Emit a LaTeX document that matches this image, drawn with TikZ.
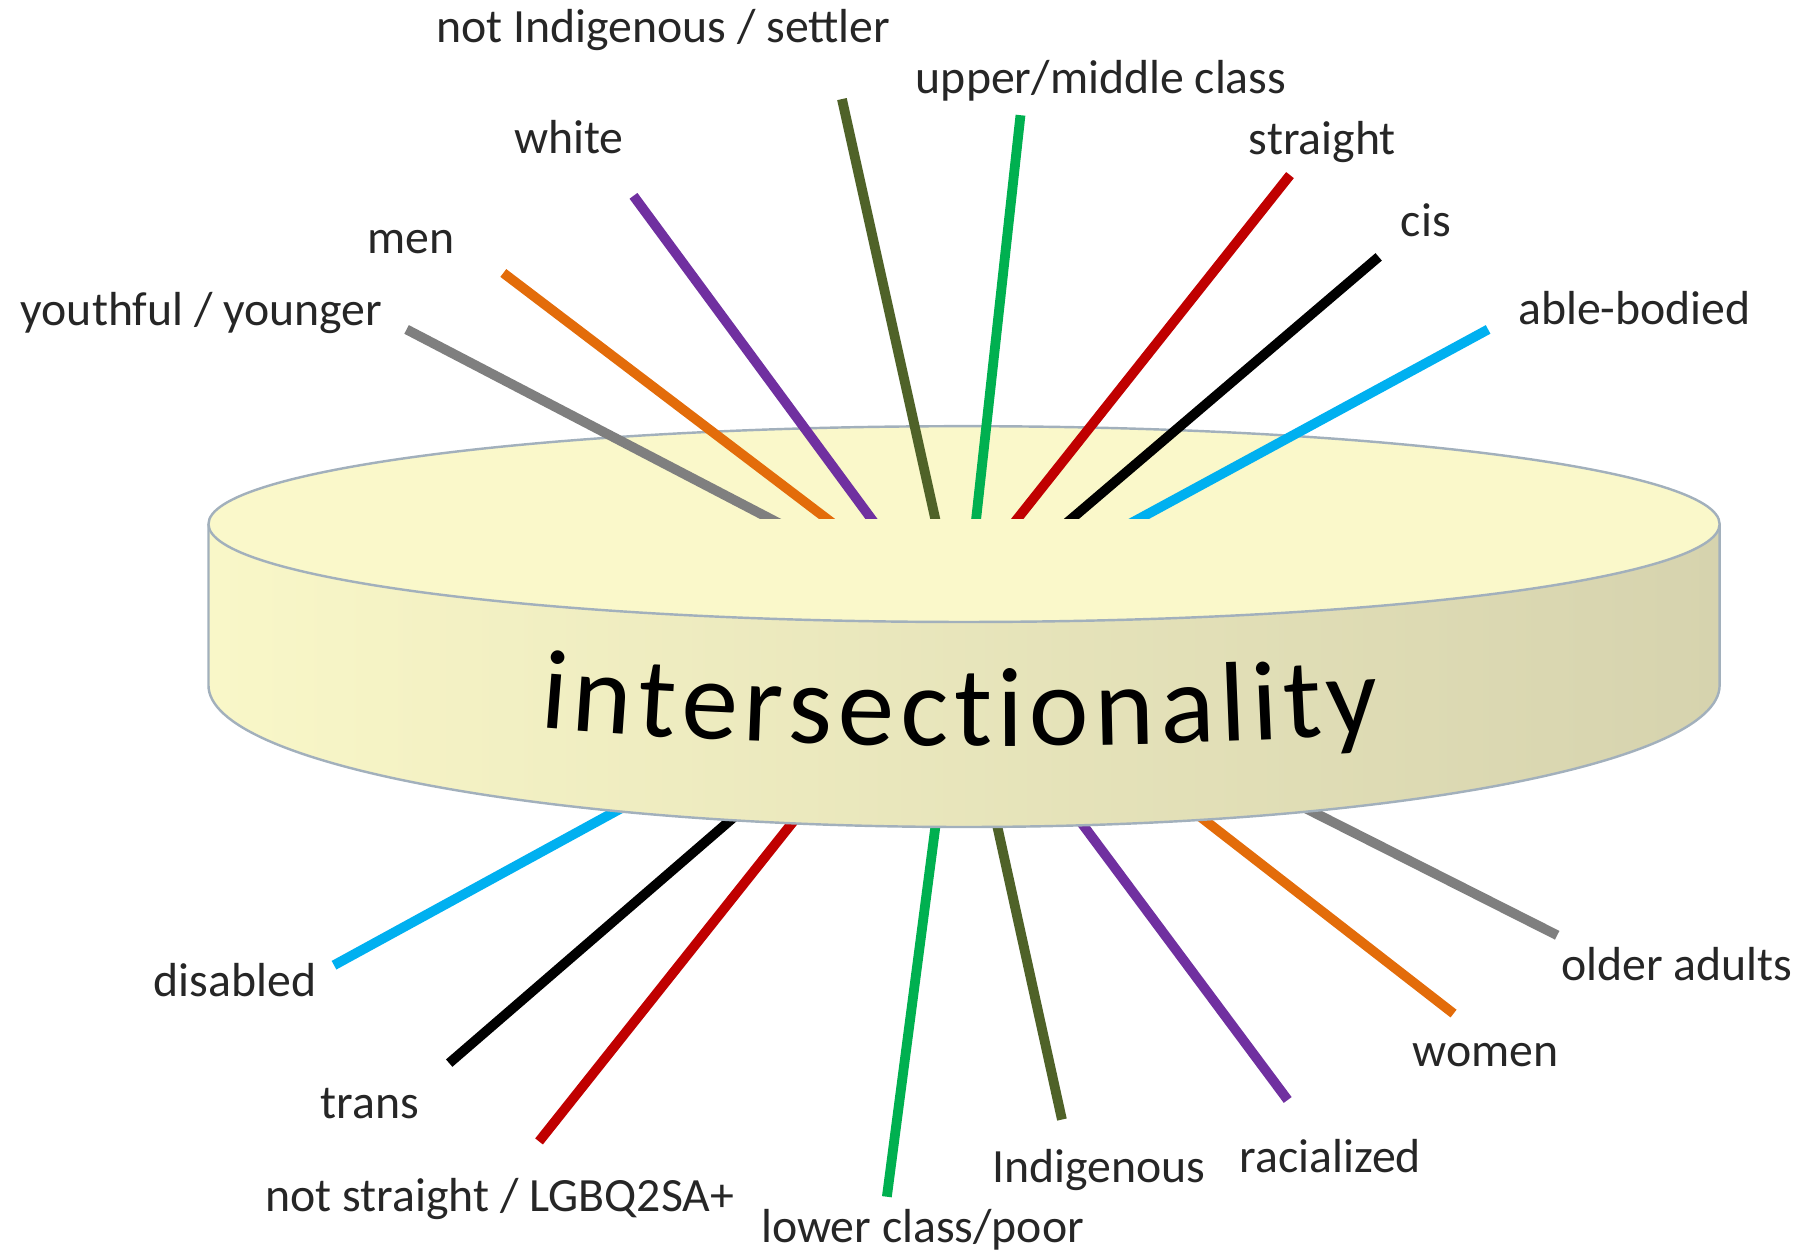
\documentclass[tikz,border=0pt]{standalone}
\usepackage{fontspec}
\setmainfont{Carlito}
\usetikzlibrary{calc,decorations.text}

\definecolor{rayGray}{HTML}{7F7F7F}
\definecolor{rayOrange}{HTML}{E36C0A}
\definecolor{rayPurple}{HTML}{7030A0}
\definecolor{rayOlive}{HTML}{4F6228}
\definecolor{rayGreen}{HTML}{00B050}
\definecolor{rayRed}{HTML}{C00000}
\definecolor{rayCyan}{HTML}{00B0F0}
\definecolor{diskTop}{HTML}{FAF8CA}
\definecolor{diskLeft}{HTML}{F9F7C8}
\definecolor{diskMid}{HTML}{F3F0C4}
\definecolor{diskRight}{HTML}{D6D3AE}
\definecolor{diskLine}{HTML}{A2B0BC}
\definecolor{labelText}{HTML}{262626}

\begin{document}
\begin{tikzpicture}[x=0.1mm,y=-0.1mm,
    ray/.style={line width=0.85mm},
    lbl/.style={anchor=base,inner sep=0pt,text=labelText,font=\fontsize{11.8}{14}\selectfont}]
    \useasboundingbox (0,0) rectangle (1568,1089);

    % ray ends, upper side
    \coordinate (young-o) at (353,286);  \coordinate (young-i) at (668,450);
    \coordinate (men-o) at (437,237);    \coordinate (men-i) at (716,449);
    \coordinate (white-o) at (550,170);  \coordinate (white-i) at (754,447);
    \coordinate (settler-o) at (731,86); \coordinate (settler-i) at (811,446);
    \coordinate (upper-o) at (886,100);  \coordinate (upper-i) at (848,446);
    \coordinate (straight-o) at (1120,152); \coordinate (straight-i) at (886,447);
    \coordinate (cis-o) at (1197,223);   \coordinate (cis-i) at (932,449);
    \coordinate (able-o) at (1292,286);  \coordinate (able-i) at (986,452);
    % ray ends, lower side (inner ends hidden by the disk)
    \coordinate (disabled-o) at (290,838); \coordinate (disabled-i) at (634,650);
    \coordinate (trans-o) at (390,923);    \coordinate (trans-i) at (706,650);
    \coordinate (lgbq-o) at (468,991);     \coordinate (lgbq-i) at (739,650);
    \coordinate (lower-o) at (770,1039);   \coordinate (lower-i) at (821,650);
    \coordinate (indig-o) at (922,972);    \coordinate (indig-i) at (851,650);
    \coordinate (racial-o) at (1118,955);  \coordinate (racial-i) at (891,650);
    \coordinate (women-o) at (1262,880);   \coordinate (women-i) at (966,650);
    \coordinate (older-o) at (1352,812);   \coordinate (older-i) at (1031,650);

    \draw[ray,rayCyan] (disabled-o) -- (disabled-i);
    \draw[ray,black] (trans-o) -- (trans-i);
    \draw[ray,rayRed] (lgbq-o) -- (lgbq-i);
    \draw[ray,rayGreen] (lower-o) -- (lower-i);
    \draw[ray,rayOlive] (indig-o) -- (indig-i);
    \draw[ray,rayPurple] (racial-o) -- (racial-i);
    \draw[ray,rayOrange] (women-o) -- (women-i);
    \draw[ray,rayGray] (older-o) -- (older-i);

    % the disk
    \path[left color=diskLeft,middle color=diskMid,right color=diskRight]
        (181,455) -- (181,595) arc[start angle=180,end angle=0,x radius=656,y radius=123]
        -- (1493,455) arc[start angle=0,end angle=180,x radius=656,y radius=85] -- cycle;
    \draw[diskLine,line width=0.6pt] (181,455) -- (181,595)
        arc[start angle=180,end angle=0,x radius=656,y radius=123] -- (1493,455);
    \draw[diskLine,line width=0.6pt,fill=diskTop] (837,455) ellipse[x radius=656,y radius=85];
    \path[decorate,decoration={text along path,text align={fit to path},
        text={|\fontsize{28}{30}\selectfont|intersectionality}}]
        (468,632) .. controls (710,652) and (955,652) .. (1198,637);

    \begin{scope}
        \clip (0,0) rectangle (1568,450);
        \draw[ray,rayGray] (young-o) -- ($(young-o)!1.2!(young-i)$);
        \draw[ray,rayOrange] (men-o) -- ($(men-o)!1.2!(men-i)$);
        \draw[ray,rayPurple] (white-o) -- ($(white-o)!1.2!(white-i)$);
        \draw[ray,rayOlive] (settler-o) -- ($(settler-o)!1.2!(settler-i)$);
        \draw[ray,rayGreen] (upper-o) -- ($(upper-o)!1.2!(upper-i)$);
        \draw[ray,rayRed] (straight-o) -- ($(straight-o)!1.2!(straight-i)$);
        \draw[ray,black] (cis-o) -- ($(cis-o)!1.2!(cis-i)$);
        \draw[ray,rayCyan] (able-o) -- ($(able-o)!1.2!(able-i)$);
    \end{scope}

    \node[lbl] (young) at (175,283) {youthful / younger};
    \node[lbl] (men) at (357,220) {men};
    \node[lbl] (white) at (494,133) {white};
    \node[lbl] (settler) at (576,37) {not Indigenous / settler};
    \node[lbl] (upper) at (956,81) {upper/middle class};
    \node[lbl] (straight) at (1148,134) {straight};
    \node[lbl] (cis) at (1238,205) {cis};
    \node[lbl] (able) at (1419,282) {able-bodied};
    \node[lbl] (disabled) at (204,865) {disabled};
    \node[lbl] (trans) at (321,971) {trans};
    \node[lbl] (lgbq) at (434,1052) {not straight / LGBQ2SA+};
    \node[lbl] (lower) at (801,1079) {lower class/poor};
    \node[lbl] (indig) at (954,1027) {Indigenous};
    \node[lbl] (racial) at (1155,1018) {racialized};
    \node[lbl] (women) at (1290,926) {women};
    \node[lbl] (older) at (1456,851) {older adults};
\end{tikzpicture}
\end{document}
